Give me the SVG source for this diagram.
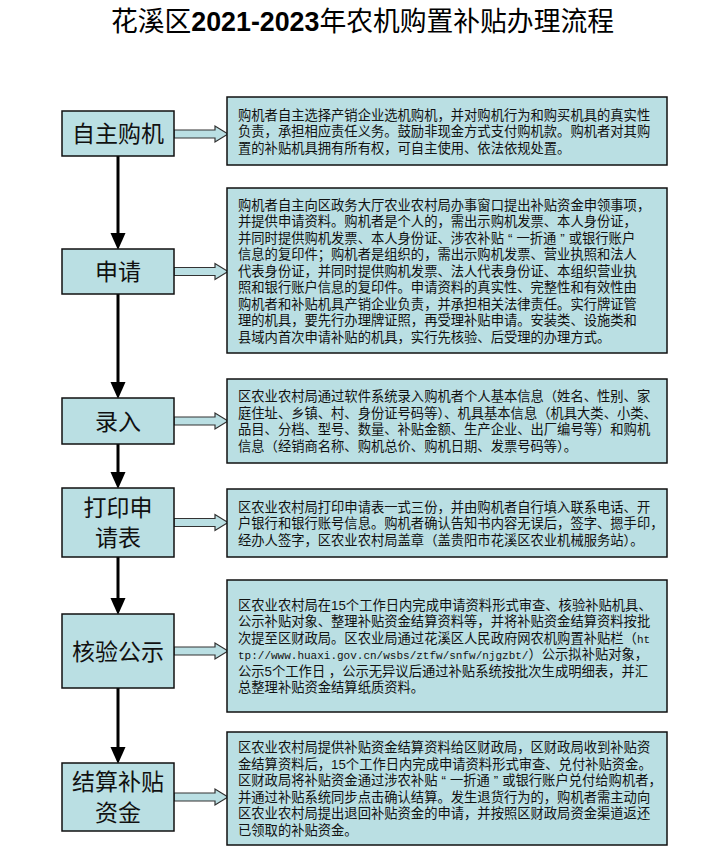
<svg xmlns="http://www.w3.org/2000/svg" width="720" height="848" viewBox="0 0 720 848">
<style>
.bg{fill:#ffffff}
.box{fill:#badfe3;stroke:#111;stroke-width:1.5}
.lab{font-family:"Liberation Sans","Noto Sans CJK SC","Noto Sans CJK TC",sans-serif;font-size:23px;fill:#111;text-anchor:middle}
.desc{font-family:"Liberation Sans","Noto Sans CJK SC","Noto Sans CJK TC",sans-serif;font-size:13.3px;fill:#111}
.mono{font-family:"Liberation Mono",monospace;font-size:11px}
.vline{stroke:#000;stroke-width:3;fill:none}
.harrow{fill:#badfe3;stroke:#333;stroke-width:1.2}
.title{font-family:"Noto Sans CJK SC",sans-serif;font-size:27px;fill:#000}
.num{font-family:"Liberation Sans",Arial,sans-serif;font-weight:bold}
</style>
<defs>
<marker id="ah" markerUnits="userSpaceOnUse" markerWidth="17" markerHeight="16" refX="8" refY="7.5" orient="auto">
<path d="M0,0 L17,7.5 L0,15 Z" fill="#000"/>
</marker>
</defs>
<rect class="bg" x="0" y="0" width="720" height="848"/>
<text id="title" class="title" x="111" y="31" textLength="503" lengthAdjust="spacingAndGlyphs">花溪区<tspan class="num">2021-2023</tspan>年农机购置补贴办理流程</text>

<g id="connectors">
<line class="vline" x1="118" y1="156" x2="118" y2="241" marker-end="url(#ah)"/>
<line class="vline" x1="118" y1="294" x2="118" y2="390" marker-end="url(#ah)"/>
<line class="vline" x1="118" y1="444" x2="118" y2="480" marker-end="url(#ah)"/>
<line class="vline" x1="118" y1="557" x2="118" y2="606" marker-end="url(#ah)"/>
<line class="vline" x1="118" y1="688" x2="118" y2="755" marker-end="url(#ah)"/>
<path class="harrow" d="M174,130 H215 V126 L228,134 L215,142 V138 H174 Z"/>
<path class="harrow" d="M174,267.5 H215 V263.5 L228,271.5 L215,279.5 V275.5 H174 Z"/>
<path class="harrow" d="M174,417 H215 V413 L228,421 L215,429 V425 H174 Z"/>
<path class="harrow" d="M174,518.5 H215 V514.5 L228,522.5 L215,530.5 V526.5 H174 Z"/>
<path class="harrow" d="M174,647 H215 V643 L228,651 L215,659 V655 H174 Z"/>
<path class="harrow" d="M174,793 H215 V789 L228,797 L215,805 V801 H174 Z"/>
</g>

<g id="n1">
<rect class="box" x="62" y="111" width="112" height="45"/>
<text class="lab" x="118" y="142">自主购机</text>
</g>
<g id="n2">
<rect class="box" x="62" y="249" width="112" height="45"/>
<text class="lab" x="118" y="280">申请</text>
</g>
<g id="n3">
<rect class="box" x="62" y="398" width="112" height="46"/>
<text class="lab" x="118" y="429.5">录入</text>
</g>
<g id="n4">
<rect class="box" x="62" y="488" width="112" height="69"/>
<text class="lab" x="118" y="516">打印申<tspan x="118" dy="30">请表</tspan></text>
</g>
<g id="n5">
<rect class="box" x="62" y="614" width="112" height="74"/>
<text class="lab" x="118" y="659.5">核验公示</text>
</g>
<g id="n6">
<rect class="box" x="62" y="763" width="112" height="68"/>
<text class="lab" x="118" y="789.5">结算补贴<tspan x="118" dy="31">资金</tspan></text>
</g>

<g id="d1">
<rect class="box" x="227" y="97" width="440" height="68"/>
<text class="desc" x="238" y="119.5">购机者自主选择产销企业选机购机，并对购机行为和购买机具的真实性<tspan x="238" dy="16.5">负责，承担相应责任义务。鼓励非现金方式支付购机款。购机者对其购</tspan><tspan x="238" dy="16.5">置的补贴机具拥有所有权，可自主使用、依法依规处置。</tspan></text>
</g>
<g id="d2">
<rect class="box" x="227" y="188" width="440" height="165"/>
<text class="desc" x="238" y="209.5">购机者自主向区政务大厅农业农村局办事窗口提出补贴资金申领事项，<tspan x="238" dy="16.5">并提供申请资料。购机者是个人的，需出示购机发票、本人身份证，</tspan><tspan x="238" dy="16.5">并同时提供购机发票、本人身份证、涉农补贴</tspan><tspan dx="4">“</tspan><tspan dx="4">一折通</tspan><tspan dx="4">”</tspan><tspan dx="4">或银行账户</tspan><tspan x="238" dy="16.5">信息的复印件；购机者是组织的，需出示购机发票、营业执照和法人</tspan><tspan x="238" dy="16.5">代表身份证，并同时提供购机发票、法人代表身份证、本组织营业执</tspan><tspan x="238" dy="16.5">照和银行账户信息的复印件。申请资料的真实性、完整性和有效性由</tspan><tspan x="238" dy="16.5">购机者和补贴机具产销企业负责，并承担相关法律责任。实行牌证管</tspan><tspan x="238" dy="16.5">理的机具，要先行办理牌证照，再受理补贴申请。安装类、设施类和</tspan><tspan x="238" dy="16.5">县域内首次申请补贴的机具，实行先核验、后受理的办理方式。</tspan></text>
</g>
<g id="d3">
<rect class="box" x="227" y="379" width="440" height="84"/>
<text class="desc" x="238" y="401.25">区农业农村局通过软件系统录入购机者个人基本信息（姓名、性别、家<tspan x="238" dy="16.5">庭住址、乡镇、村、身份证号码等）、机具基本信息（机具大类、小类、</tspan><tspan x="238" dy="16.5">品目、分档、型号、数量、补贴金额、生产企业、出厂编号等）和购机</tspan><tspan x="238" dy="16.5">信息（经销商名称、购机总价、购机日期、发票号码等）。</tspan></text>
</g>
<g id="d4">
<rect class="box" x="227" y="489" width="440" height="68"/>
<text class="desc" x="238" y="511.5">区农业农村局打印申请表一式三份，并由购机者自行填入联系电话、开<tspan x="238" dy="16.5">户银行和银行账号信息。购机者确认告知书内容无误后，签字、摁手印，</tspan><tspan x="238" dy="16.5">经办人签字，区农业农村局盖章（盖贵阳市花溪区农业机械服务站）。</tspan></text>
</g>
<g id="d5">
<rect class="box" x="227" y="580" width="440" height="132"/>
<text class="desc" x="238" y="609.75">区农业农村局在15个工作日内完成申请资料形式审查、核验补贴机具、<tspan x="238" dy="16.5">公示补贴对象、整理补贴资金结算资料等，并将补贴资金结算资料按批</tspan><tspan x="238" dy="16.5">次提至区财政局。区农业局通过花溪区人民政府网农机购置补贴栏（</tspan><tspan class="mono">ht</tspan><tspan x="238" dy="16.5" class="mono">tp://www.huaxi.gov.cn/wsbs/ztfw/snfw/njgzbt/</tspan><tspan>）公示拟补贴对象，</tspan><tspan x="238" dy="16.5">公示5个工作日 ，公示无异议后通过补贴系统按批次生成明细表，并汇</tspan><tspan x="238" dy="16.5">总整理补贴资金结算纸质资料。</tspan></text>
</g>
<g id="d6">
<rect class="box" x="227" y="732" width="440" height="113"/>
<text class="desc" x="238" y="752.25">区农业农村局提供补贴资金结算资料给区财政局，区财政局收到补贴资<tspan x="238" dy="16.5">金结算资料后，15个工作日内完成申请资料形式审查、兑付补贴资金。</tspan><tspan x="238" dy="16.5">区财政局将补贴资金通过涉农补贴</tspan><tspan dx="4">“</tspan><tspan dx="4">一折通</tspan><tspan dx="4">”</tspan><tspan dx="4">或银行账户兑付给购机者，</tspan><tspan x="238" dy="16.5">并通过补贴系统同步点击确认结算。发生退货行为的，购机者需主动向</tspan><tspan x="238" dy="16.5">区农业农村局提出退回补贴资金的申请，并按照区财政局资金渠道返还</tspan><tspan x="238" dy="16.5">已领取的补贴资金。</tspan></text>
</g>
</svg>
